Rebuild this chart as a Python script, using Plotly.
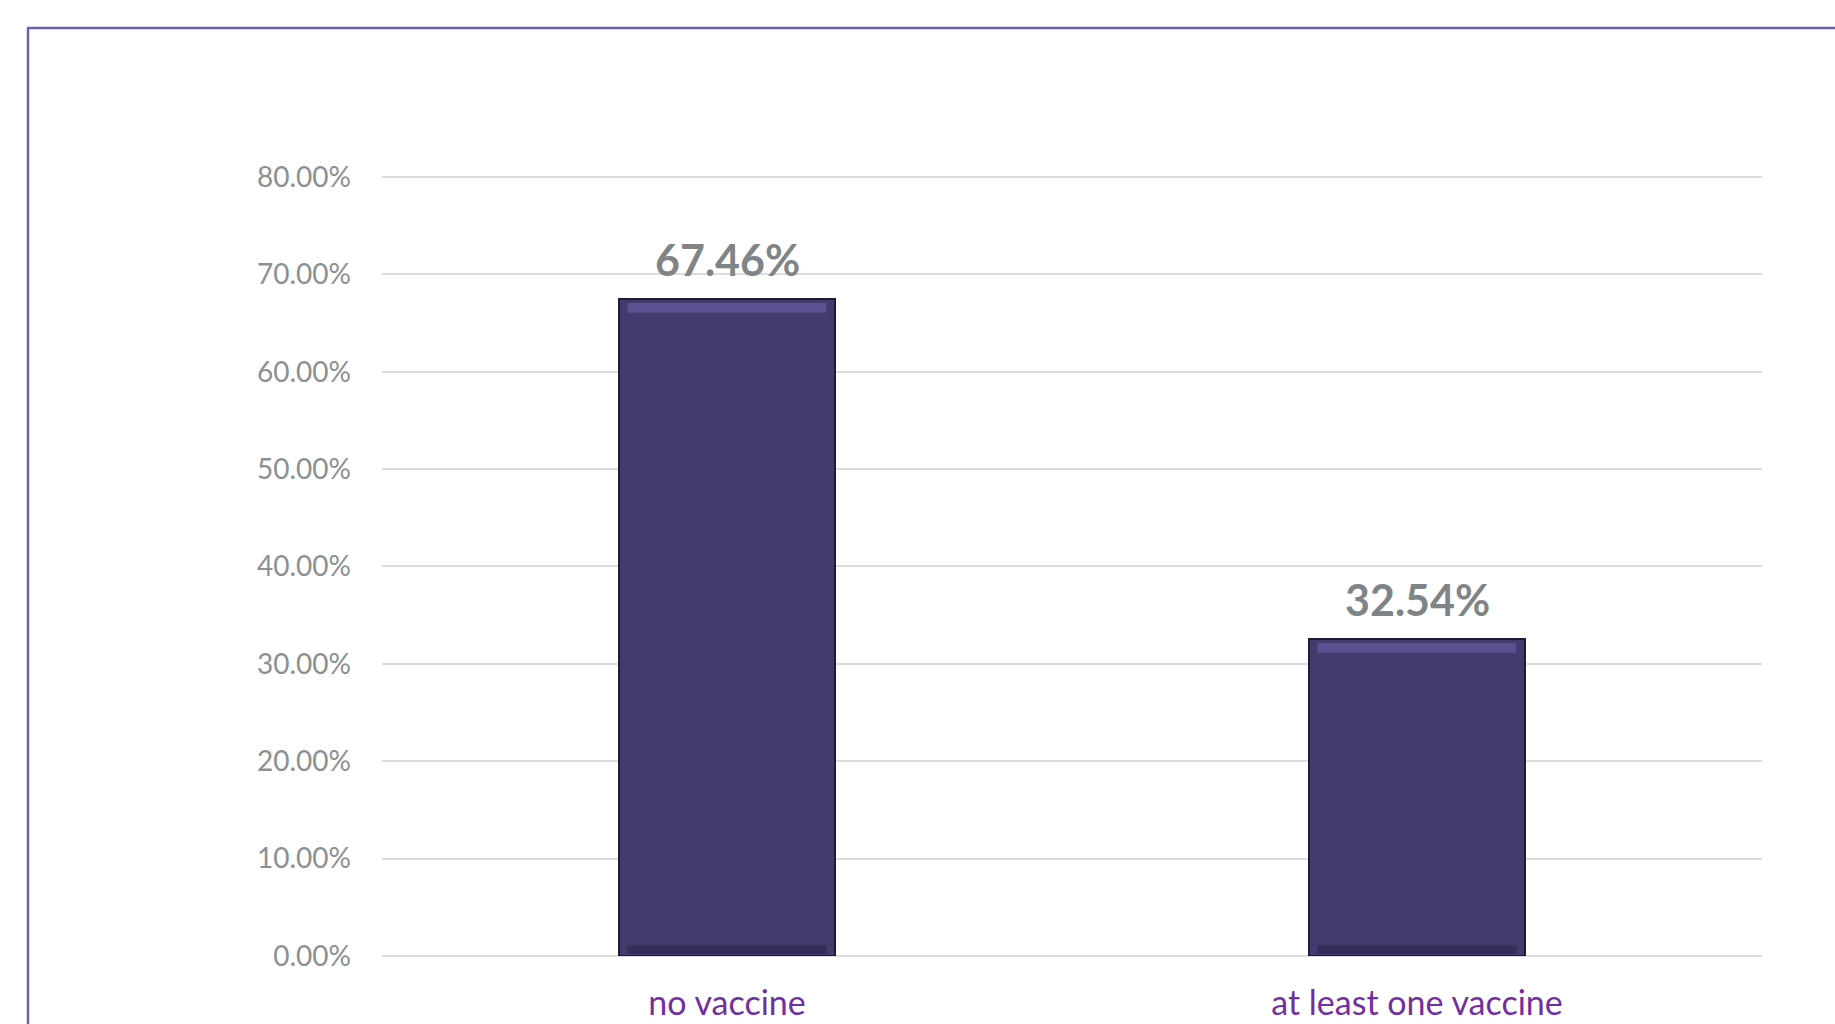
import plotly.graph_objects as go

categories = ["no vaccine", "at least one vaccine"]
values = [67.46, 32.54]
tick_vals = [0, 10, 20, 30, 40, 50, 60, 70, 80]
tick_text = ["0.00%", "10.00%", "20.00%", "30.00%", "40.00%", "50.00%", "60.00%", "70.00%", "80.00%"]
value_labels = ["67.46%", "32.54%"]

bar_w = 0.313
fig = go.Figure()
# main bar body
fig.add_trace(go.Bar(
    x=categories, y=values, width=bar_w,
    marker=dict(color="#433A6E", line=dict(color="#1F1B36", width=2)),
    hoverinfo="skip", showlegend=False,
))
# top bevel highlight
fig.add_trace(go.Bar(
    x=categories, y=[1.0] * len(values), base=[v - 1.4 for v in values], width=bar_w * 0.92,
    marker=dict(color="#5A5190", line=dict(width=0)),
    hoverinfo="skip", showlegend=False,
))
# bottom bevel shade
fig.add_trace(go.Bar(
    x=categories, y=[0.9] * len(values), base=[0.2] * len(values), width=bar_w * 0.92,
    marker=dict(color="#352D58", line=dict(width=0)),
    hoverinfo="skip", showlegend=False,
))

for c, v, t in zip(categories, values, value_labels):
    fig.add_annotation(x=c, y=v, text=t, showarrow=False, yanchor="bottom", yshift=12,
                       font=dict(family="Lato", size=43, color="#7F8487", weight="bold"))

L, R, T, B = 382, 73, 175, 68
fig.update_layout(
    width=1835, height=1024,
    margin=dict(l=L, r=R, t=T, b=B, autoexpand=False),
    paper_bgcolor="white", plot_bgcolor="white",
    barmode="overlay",
    font=dict(family="Lato"),
    xaxis=dict(showgrid=False, showline=False, zeroline=False, ticks="", automargin=False,
               tickfont=dict(family="Lato", size=34, color="#7030A0"),
               ticklabelstandoff=24),
    yaxis=dict(range=[0, 80.2], tickvals=tick_vals, ticktext=tick_text, automargin=False,
               showgrid=True, gridcolor="#DCDCDC", gridwidth=1.5,
               zeroline=True, zerolinecolor="#DCDCDC", zerolinewidth=1.5,
               showline=False, ticks="",
               tickfont=dict(family="Lato", size=28, color="#8A9094"),
               ticklabelstandoff=30),
)
# frame lines in pixel-based paper coordinates
plot_w = 1835 - L - R
plot_h = 1024 - T - B
def px_x(px):
    return (px - L) / plot_w
def px_y(py):
    return (1024 - B - py) / plot_h
fig.add_shape(type="line", xref="paper", yref="paper", x0=px_x(27), x1=px_x(1840), y0=px_y(28), y1=px_y(28),
              line=dict(color="#6A5FB8", width=2.5))
fig.add_shape(type="line", xref="paper", yref="paper", x0=px_x(28), x1=px_x(28), y0=px_y(28), y1=px_y(1030),
              line=dict(color="#6A5FB8", width=2.5))

fig.write_html("out.html")
